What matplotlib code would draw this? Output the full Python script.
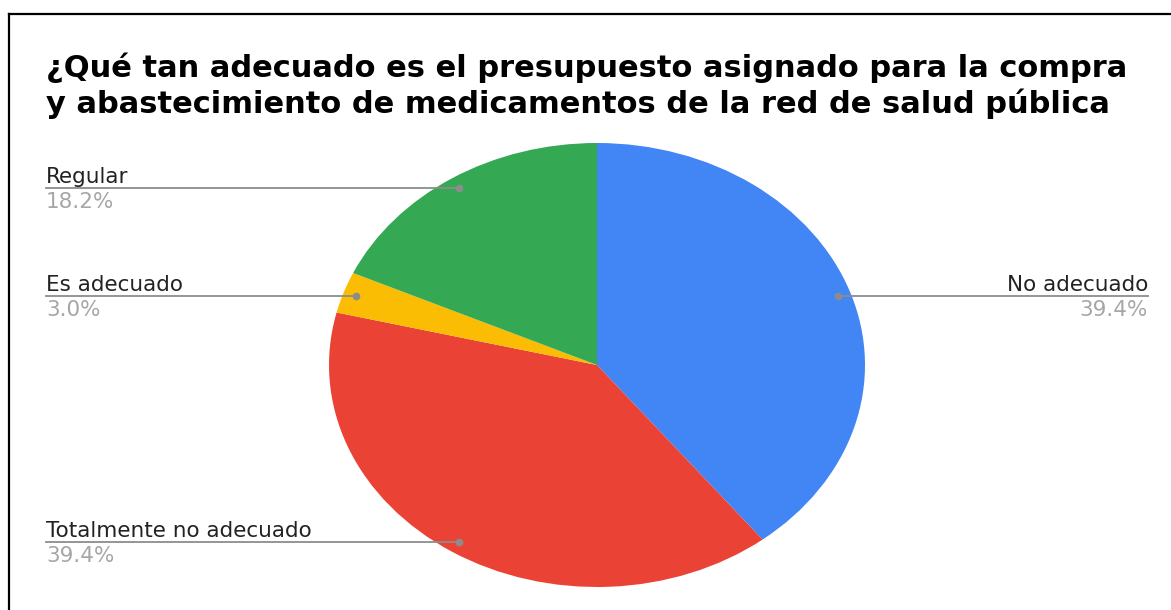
import matplotlib.pyplot as plt
from matplotlib.lines import Line2D
import numpy as np

# the source image is stretched sideways, so a wide face fits its text best
plt.rcParams['font.family'] = ['DejaVu Sans']

title_lines = ["¿Qué tan adecuado es el presupuesto asignado para la compra",
               "y abastecimiento de medicamentos de la red de salud pública"]
labels = ["No adecuado", "Totalmente no adecuado", "Es adecuado", "Regular"]
values = [39.4, 39.4, 3.0, 18.2]
colors = ["#4285F4", "#EA4335", "#FBBC04", "#34A853"]

fig = plt.figure(figsize=(11.71, 6.10), dpi=100)

# pie area is wider than tall, like the source image
ax = fig.add_axes([329 / 1171, 23 / 610, 536 / 1171, 444 / 610])
wedges, _ = ax.pie(values, colors=colors, startangle=90, counterclock=False,
                   wedgeprops=dict(linewidth=0))
ax.set_aspect('auto')
ax.set_xlim(-1, 1)
ax.set_ylim(-1, 1)
ax.axis('off')

label_x = 2.056
for w, lab, val in zip(wedges, labels, values):
    mid = np.radians((w.theta1 + w.theta2) / 2)
    px, py = 0.95 * np.cos(mid), 0.95 * np.sin(mid)
    if px < 0:
        lx, ha = -label_x, 'left'
    else:
        lx, ha = label_x, 'right'
    ax.plot([px, lx], [py, py], color='#8c8c8c', lw=1.3, clip_on=False)
    ax.plot(px, py, 'o', color='#8c8c8c', ms=4.5, clip_on=False)
    ax.annotate(lab, (lx, py), xytext=(0, 5), textcoords='offset pixels',
                ha=ha, va='baseline', fontsize=15.5, color='#222222',
                annotation_clip=False)
    ax.annotate(f"{val:.1f}%", (lx, py), xytext=(0, -20), textcoords='offset pixels',
                ha=ha, va='baseline', fontsize=15.5, color='#a6a6a6',
                annotation_clip=False)

for i, line in enumerate(title_lines):
    fig.text(46 / 1171, 1 - (77 + 36 * i) / 610, line, ha='left', va='baseline',
             fontsize=22, fontweight='bold', color='#000000')

# frame of the screenshot: only left and top edges are visible
fig.add_artist(Line2D([9 / 1171, 9 / 1171], [0, 1 - 14 / 610], color='black', lw=1.6))
fig.add_artist(Line2D([9 / 1171, 1], [1 - 14 / 610, 1 - 14 / 610], color='black', lw=1.6))

fig.savefig("out.png", dpi=100, facecolor='white')
